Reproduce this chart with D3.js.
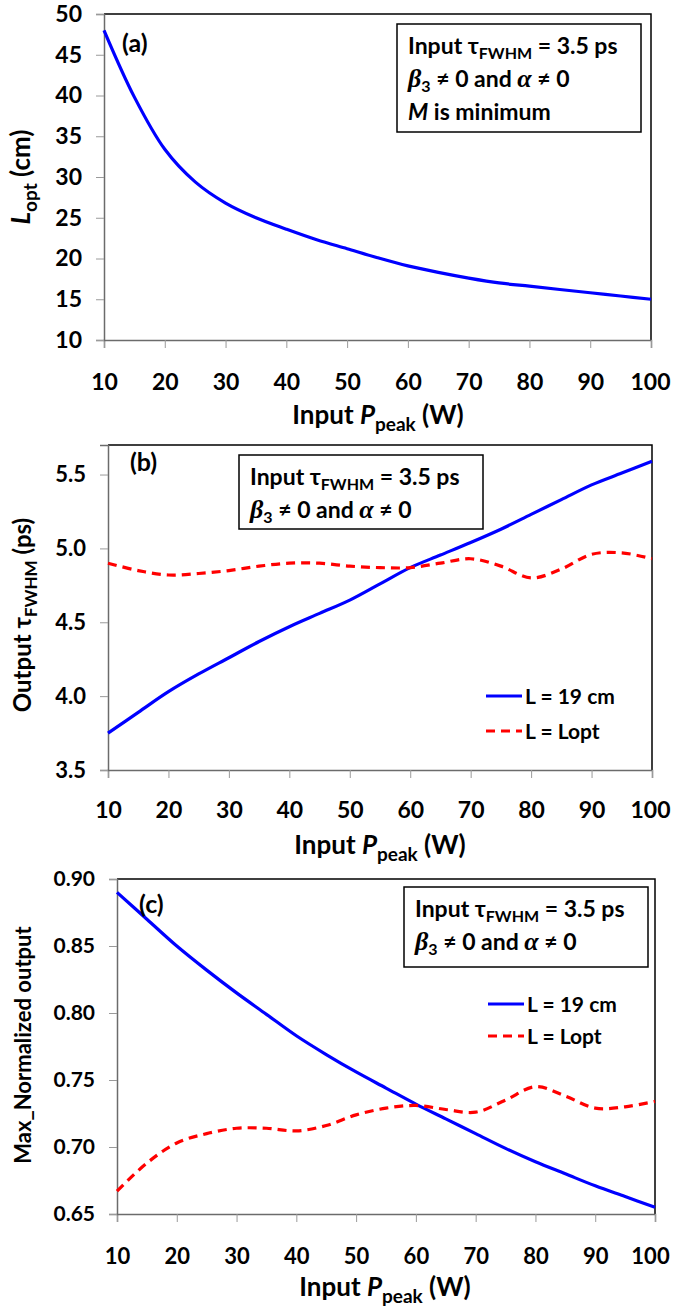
<!DOCTYPE html>
<html>
<head>
<meta charset="utf-8">
<script src="https://cdn.jsdelivr.net/npm/d3@7"></script>
<style>
  body { margin: 0; background: #fff; }
  svg { display: block; }
  text { font-family: Lato, "Open Sans", sans-serif; font-weight: bold; fill: #000; }
</style>
</head>
<body>
<svg id="chart" width="673" height="1307"></svg>
<script>
// ---- data ----
const pPeak = [10,15,20,25,30,35,40,45,50,55,60,65,70,75,80,85,90,95,100];
const xTicks = [10,20,30,40,50,60,70,80,90,100];

// (a) optimum length (cm)
const lOpt = [48.0,39.8,33.4,29.4,26.8,25.0,23.6,22.3,21.2,20.1,19.1,18.3,17.6,17.0,16.6,16.2,15.8,15.4,15.0];
const yTicksA = [10,15,20,25,30,35,40,45,50];

// (b) output FWHM (ps)
const tauL19 = [3.75,3.89,4.03,4.15,4.26,4.37,4.47,4.56,4.65,4.76,4.87,4.955,5.04,5.13,5.23,5.33,5.43,5.51,5.59];
const tauLopt = [4.90,4.85,4.82,4.83,4.85,4.88,4.90,4.90,4.88,4.87,4.87,4.90,4.93,4.88,4.80,4.86,4.96,4.97,4.93];
const yTicksB = [3.5,4.0,4.5,5.0,5.5];

// (c) max normalized output
const normL19 = [0.890,0.870,0.850,0.832,0.815,0.799,0.783,0.769,0.756,0.744,0.732,0.721,0.710,0.699,0.689,0.680,0.671,0.663,0.655];
const normLopt = [0.667,0.688,0.703,0.710,0.714,0.714,0.712,0.716,0.724,0.729,0.731,0.728,0.726,0.735,0.745,0.738,0.729,0.730,0.734];
const yTicksC = [0.65,0.70,0.75,0.80,0.85,0.90];

const seriesNames = ["L = 19 cm", "L = Lopt"];
const BLUE = "#0000ff", RED = "#ff0000";

const svg = d3.select("#chart");

function panel(cfg) {
  const g = svg.append("g");
  const x = d3.scaleLinear().domain([10,100]).range([cfg.left, cfg.right]);
  const y = d3.scaleLinear().domain(cfg.yDomain).range([cfg.bottom, cfg.top]);

  // frame top/right
  g.append("path")
    .attr("d", `M${cfg.left},${cfg.top}H${cfg.right}V${cfg.bottom}`)
    .attr("fill", "none").attr("stroke", "#000").attr("stroke-width", 1.5);

  // x axis
  const xa = g.append("g").attr("transform", `translate(0,${cfg.bottom})`)
    .call(d3.axisBottom(x).tickValues(xTicks).tickSize(8).tickPadding(cfg.xPad).tickFormat(d3.format("d")));
  xa.select(".domain").attr("stroke", "#6b6b6b").attr("stroke-width", 1.5);
  xa.selectAll(".tick line").attr("stroke", "#9a9a9a").attr("stroke-width", 1);
  xa.selectAll("text").attr("font-size", cfg.xFont).attr("font-family", "Lato").attr("font-weight", "bold");
  // keep the last label inside the page
  xa.selectAll(".tick text").filter(d => d === 100).attr("dx", cfg.lastDx || 0);

  // y axis
  const ya = g.append("g").attr("transform", `translate(${cfg.left},0)`)
    .call(d3.axisLeft(y).tickValues(cfg.yTicks).tickSize(8).tickPadding(cfg.yPad).tickFormat(cfg.yFmt));
  ya.select(".domain").attr("stroke", "#6b6b6b").attr("stroke-width", 1.5);
  ya.selectAll(".tick line").attr("stroke", "#9a9a9a").attr("stroke-width", 1);
  ya.selectAll("text").attr("font-size", cfg.yFont).attr("font-family", "Lato").attr("font-weight", "bold");

  const line = d3.line().x((d,i) => x(pPeak[i])).y(d => y(d)).curve(d3.curveCatmullRom.alpha(0.5));
  cfg.series.forEach(s => {
    g.append("path").datum(s.values)
      .attr("d", line).attr("fill", "none")
      .attr("stroke", s.color).attr("stroke-width", 3.2)
      .attr("stroke-dasharray", s.dash || null);
  });

  // panel label
  g.append("text").attr("x", cfg.labelX).attr("y", cfg.labelY)
    .attr("font-family", "Liberation Serif, Times New Roman, serif").attr("font-size", 25)
    .text(cfg.label);

  // x title
  const xt = g.append("text").attr("x", cfg.xTitleX).attr("y", cfg.xTitleY)
    .attr("text-anchor", "middle").attr("font-size", 26);
  xt.append("tspan").text("Input ");
  xt.append("tspan").attr("font-style", "italic").text("P");
  xt.append("tspan").attr("font-size", 19).attr("dy", 7).text("peak");
  xt.append("tspan").attr("dy", -7).text(" (W)");

  // info box
  const b = cfg.box;
  g.append("rect").attr("x", b.x).attr("y", b.y).attr("width", b.w).attr("height", b.h)
    .attr("fill", "#fff").attr("stroke", "#000").attr("stroke-width", 1.5);
  const t1 = g.append("text").attr("x", b.x + 11).attr("y", b.y + 30).attr("font-size", 23);
  t1.append("tspan").text("Input ");
  t1.append("tspan").text("τ");
  t1.append("tspan").attr("font-size", 16).attr("dy", 5).text("FWHM");
  t1.append("tspan").attr("dy", -5).text(" = 3.5 ps");
  const t2 = g.append("text").attr("x", b.x + 11).attr("y", b.y + 63).attr("font-size", 23);
  t2.append("tspan").attr("font-family", "Liberation Serif, serif").attr("font-style", "italic").attr("font-size", 26).text("β");
  t2.append("tspan").attr("font-size", 16).attr("dy", 5).text("3");
  t2.append("tspan").attr("dy", -5).text(" ≠ 0 and ");
  t2.append("tspan").attr("font-family", "Liberation Serif, serif").attr("font-style", "italic").attr("font-size", 26).text("α");
  t2.append("tspan").text(" ≠ 0");
  if (b.third) {
    const t3 = g.append("text").attr("x", b.x + 11).attr("y", b.y + 96).attr("font-size", 23);
    t3.append("tspan").attr("font-style", "italic").text("M");
    t3.append("tspan").text(" is minimum");
  }

  // legend
  if (cfg.legend) {
    const L = cfg.legend;
    cfg.series.forEach((s, i) => {
      const yy = L.y + i * L.gap;
      g.append("line").attr("x1", L.x).attr("x2", L.x + 36).attr("y1", yy).attr("y2", yy)
        .attr("stroke", s.color).attr("stroke-width", 3.2).attr("stroke-dasharray", s.dash || null);
      g.append("text").attr("x", L.x + 39).attr("y", yy + 8).attr("font-size", 21).text(seriesNames[i]);
    });
  }
  return g;
}

// (a)
panel({
  left: 104, right: 651, top: 14, bottom: 340,
  yDomain: [10, 50], yTicks: yTicksA, yFmt: d3.format("d"), xPad: 26, yPad: 14, yFont: 23, xFont: 23, lastDx: -1,
  series: [{ values: lOpt, color: BLUE }],
  label: "(a)", labelX: 122, labelY: 52,
  xTitleX: 378, xTitleY: 424,
  box: { x: 397, y: 24, w: 244, h: 108, third: true }
});
{
  const t = svg.append("text").attr("transform", "translate(30,177) rotate(-90)")
    .attr("text-anchor", "middle").attr("font-size", 26);
  t.append("tspan").attr("font-style", "italic").text("L");
  t.append("tspan").attr("font-size", 19).attr("dy", 7).text("opt");
  t.append("tspan").attr("dy", -7).text(" (cm)");
}

// (b)
panel({
  left: 108, right: 652, top: 445, bottom: 770,
  yDomain: [3.5, 5.7], yTicks: yTicksB, yFmt: d3.format(".1f"), xPad: 24, yPad: 14, yFont: 22, xFont: 23, lastDx: -2,
  series: [{ values: tauL19, color: BLUE }, { values: tauLopt, color: RED, dash: "9,6" }],
  label: "(b)", labelX: 130, labelY: 471,
  xTitleX: 380, xTitleY: 854,
  box: { x: 239, y: 455, w: 244, h: 74, third: false },
  legend: { x: 486, y: 696, gap: 35 }
});
{
  const t = svg.append("text").attr("transform", "translate(31,615) rotate(-90)")
    .attr("text-anchor", "middle").attr("font-size", 24);
  t.append("tspan").text("Output  τ");
  t.append("tspan").attr("font-size", 17).attr("dy", 6).text("FWHM");
  t.append("tspan").attr("dy", -6).text(" (ps)");
}

// (c)
panel({
  left: 117, right: 655, top: 879, bottom: 1214,
  yDomain: [0.65, 0.90], yTicks: yTicksC, yFmt: d3.format(".2f"), xPad: 26, yPad: 14, yFont: 21, xFont: 22, lastDx: -5,
  series: [{ values: normL19, color: BLUE }, { values: normLopt, color: RED, dash: "9,6" }],
  label: "(c)", labelX: 139, labelY: 913,
  xTitleX: 385, xTitleY: 1296,
  box: { x: 404, y: 887, w: 244, h: 80, third: false },
  legend: { x: 488, y: 1004, gap: 32 }
});
svg.append("text").attr("transform", "translate(31,1045) rotate(-90)")
  .attr("text-anchor", "middle").attr("font-size", 22).text("Max_Normalized output");
</script>
</body>
</html>
